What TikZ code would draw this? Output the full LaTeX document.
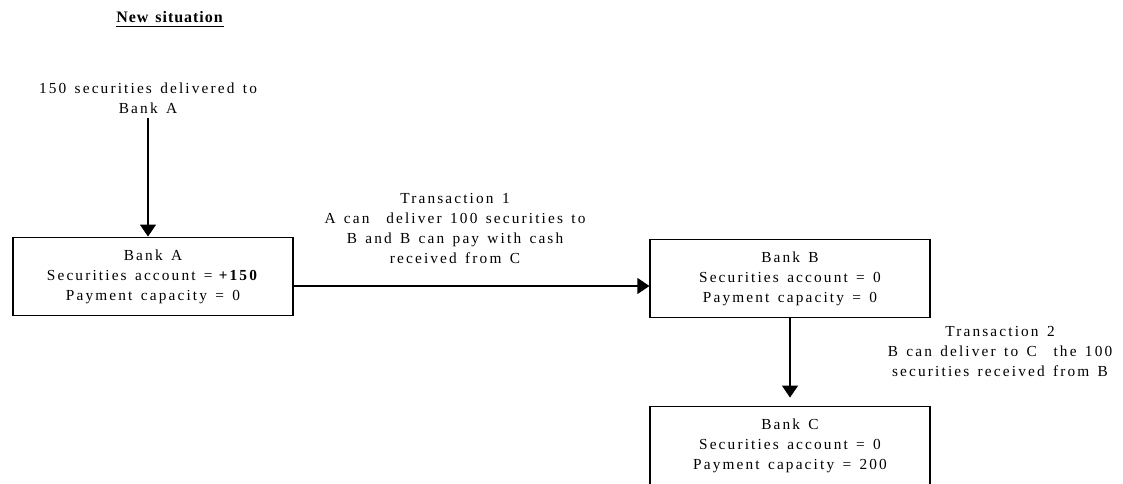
\documentclass[tikz,border=0pt]{standalone}
\usepackage{fontspec}
\setmainfont{Liberation Serif}[LetterSpace=14,WordSpace=1.4]
\usetikzlibrary{arrows.meta}

\begin{document}
\begin{tikzpicture}[
            x=0.75pt, y=-0.75pt,
            every node/.style={font=\fontsize{11.5}{15}\selectfont, align=center},
            bank/.style={draw, line width=0.9pt, minimum width=210pt,
                minimum height=59pt, inner sep=0pt},
            arr/.style={line width=0.9pt, -{Triangle[length=9pt,width=12pt]}}
        ]
        \useasboundingbox (0, 0) rectangle (1123, 484);
        \node[inner sep=0pt, font=\fontsize{12}{15}\selectfont] (title) at (170, 17)
            {\addfontfeature{LetterSpace=6}\textbf{New situation}};
        \draw[line width=1.4pt] ([yshift=-3pt]title.base west) -- ([yshift=-3pt]title.base east);
        \node (delivered) at (148, 98) {150 securities delivered to\\Bank A};
        \node[bank] (bankA) at (153, 276.5)
            {Bank A\\Securities account =\hspace{3pt}\textbf{+150}\\Payment capacity = 0};
        \node[bank] (bankB) at (790, 278.5)
            {Bank B\\Securities account = 0\\Payment capacity = 0};
        \node[bank] (bankC) at (790, 445.5)
            {Bank C\\Securities account = 0\\Payment capacity = 200};
        \node (trans1) at (455, 228)
            {Transaction 1\\A can\ \ deliver 100 securities to\\B and B can pay with cash\\received from C};
        \node (trans2) at (1000, 351)
            {Transaction 2\\B can deliver to C\ \ the 100\\securities received from B};
        \draw[arr] (delivered.south) -- (delivered.south |- bankA.north);
        \draw[arr] (bankA.east |- 0, 286) -- (bankB.west |- 0, 286);
        \draw[arr] (bankB.south) -- ([yshift=6pt]bankC.north);
    \end{tikzpicture}
\end{document}
